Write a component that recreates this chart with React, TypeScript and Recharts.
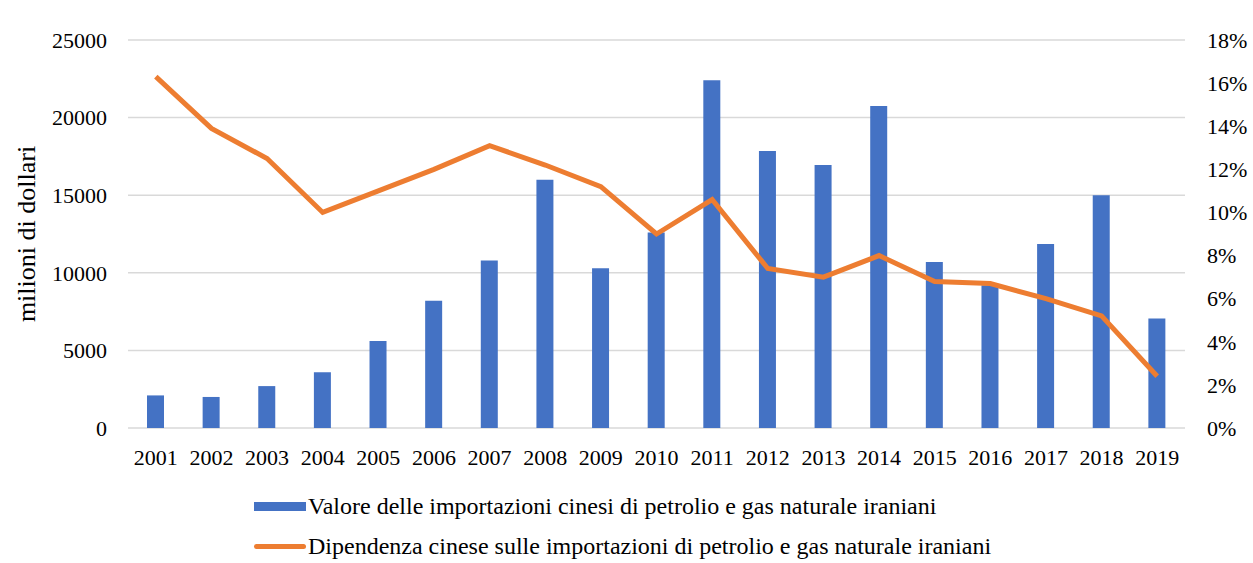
import React from 'react'
import { ComposedChart, Bar, Line, XAxis, YAxis, CartesianGrid, Legend } from "recharts";

const years = [
  "2001", "2002", "2003", "2004", "2005", "2006", "2007", "2008", "2009", "2010",
  "2011", "2012", "2013", "2014", "2015", "2016", "2017", "2018", "2019",
];

// milioni di dollari
const importValues = [
  2100, 2000, 2700, 3600, 5600, 8200, 10800, 16000, 10300, 12600,
  22400, 17850, 16950, 20750, 10700, 9200, 11850, 15000, 7050,
];

// percentuale
const dependence = [
  16.3, 13.9, 12.5, 10.0, 11.0, 12.0, 13.1, 12.2, 11.2, 9.0,
  10.6, 7.4, 7.0, 8.0, 6.8, 6.7, 6.0, 5.2, 2.4,
];

const leftTicks = [0, 5000, 10000, 15000, 20000, 25000];
const rightTicks = [0, 2, 4, 6, 8, 10, 12, 14, 16, 18];

const BAR_LABEL = "Valore delle importazioni cinesi di petrolio e gas naturale iraniani";
const LINE_LABEL = "Dipendenza cinese sulle importazioni di petrolio e gas naturale iraniani";

const BLUE = "#4472C4";
const ORANGE = "#ED7D31";
const FONT = "'Liberation Serif', 'Times New Roman', serif";

const data = years.map((year, i) => ({
  year,
  value: importValues[i],
  share: dependence[i],
}));

const LegendBox = () => (
  <div style={{ position: 'relative', height: 100, fontFamily: FONT, fontSize: 24, color: '#000' }}>
    <div style={{ position: 'absolute', left: 254, top: 30, display: 'flex', alignItems: 'center', whiteSpace: 'nowrap' }}>
      <span style={{ display: 'inline-block', width: 52, height: 9, background: BLUE, marginRight: 2 }} />
      <span>{BAR_LABEL}</span>
    </div>
    <div style={{ position: 'absolute', left: 254, top: 70, display: 'flex', alignItems: 'center', whiteSpace: 'nowrap' }}>
      <span style={{ display: 'inline-block', width: 52, height: 5, background: ORANGE, borderRadius: 3, marginRight: 2 }} />
      <span>{LINE_LABEL}</span>
    </div>
  </div>
);

const App = () => {
  const tickStyle = { fill: '#000', fontSize: 22, fontFamily: FONT };
  return (
    <div style={{ position: 'absolute', left: 0, top: 0, background: '#fff' }}>
      <ComposedChart
        width={1253}
        height={563}
        data={data}
        margin={{ top: 40, right: 0, left: 0, bottom: 0 }}
        barCategoryGap={0}
      >
        <CartesianGrid vertical={false} stroke="#d9d9d9" strokeWidth={1.5} yAxisId="left" />
        <XAxis
          dataKey="year"
          height={35}
          axisLine={false}
          tickLine={false}
          tickSize={0}
          tickMargin={21}
          tick={tickStyle}
          interval={0}
        />
        <YAxis
          yAxisId="left"
          width={128}
          domain={[0, 25000]}
          ticks={leftTicks}
          axisLine={false}
          tickLine={false}
          tickSize={0}
          tickMargin={21}
          tick={tickStyle}
          label={{
            value: "milioni di dollari",
            angle: -90,
            position: 'insideLeft',
            offset: 26,
            style: { textAnchor: 'middle', fill: '#000', fontSize: 26, fontFamily: FONT },
          }}
        />
        <YAxis
          yAxisId="right"
          orientation="right"
          width={68}
          domain={[0, 18]}
          ticks={rightTicks}
          axisLine={false}
          tickLine={false}
          tickSize={0}
          tickMargin={22}
          tick={tickStyle}
          tickFormatter={(v) => `${v}%`}
        />
        <Legend verticalAlign="bottom" align="center" layout="horizontal" content={() => <LegendBox />} />
        <Bar
          yAxisId="left"
          dataKey="value"
          name={BAR_LABEL}
          fill={BLUE}
          barSize={17}
          isAnimationActive={false}
        />
        <Line
          yAxisId="right"
          dataKey="share"
          name={LINE_LABEL}
          stroke={ORANGE}
          strokeWidth={5}
          dot={false}
          type="linear"
          isAnimationActive={false}
        />
      </ComposedChart>
    </div>
  )
}

export default App;
